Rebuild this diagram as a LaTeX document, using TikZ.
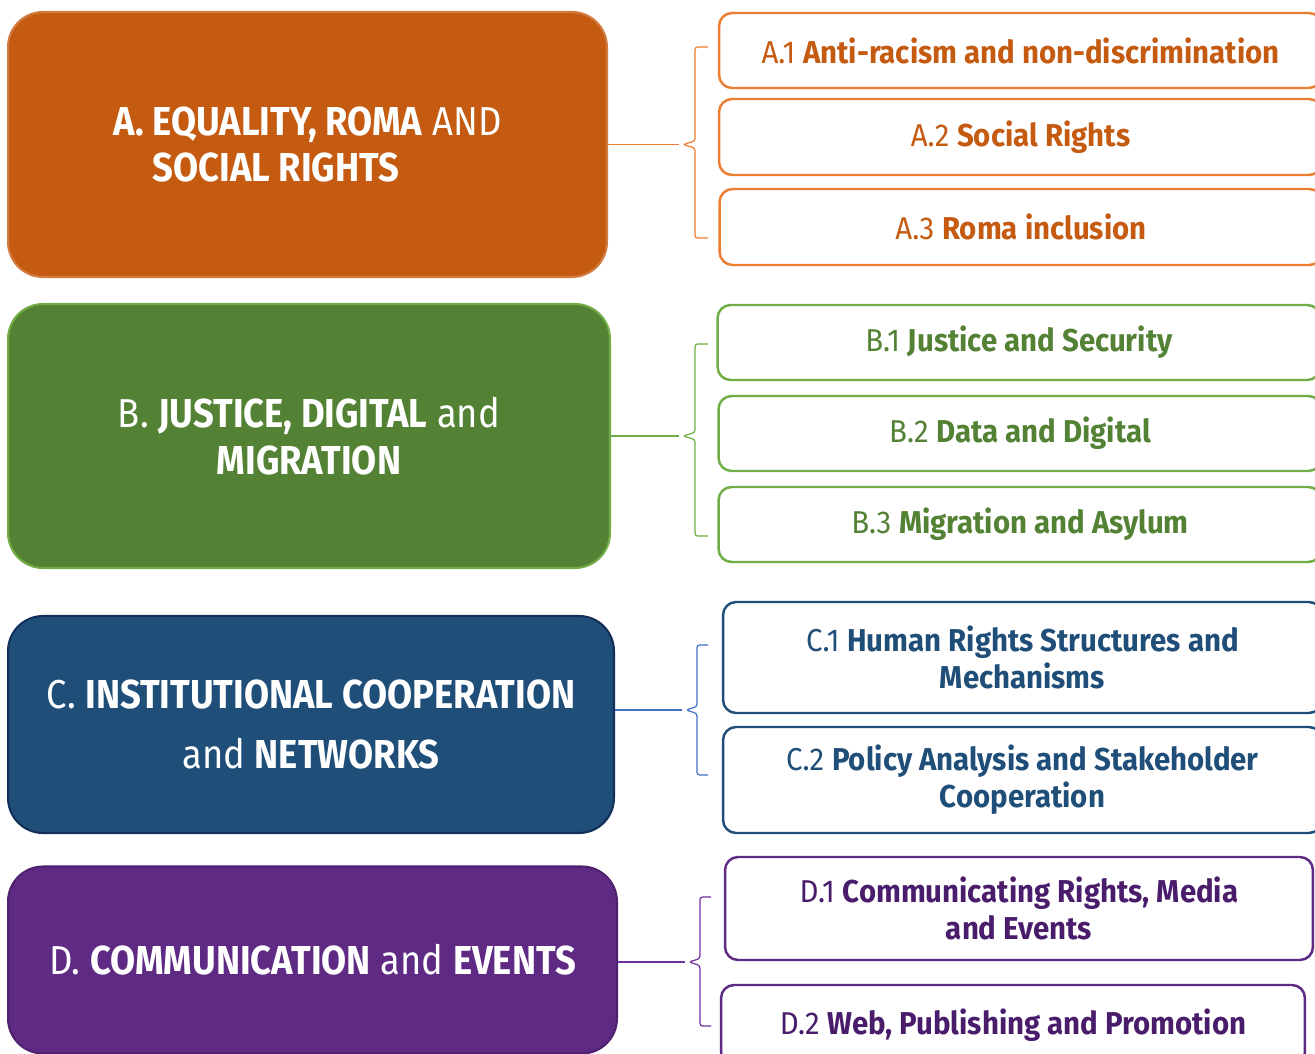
\documentclass[tikz,border=0pt]{standalone}
\usepackage{fontspec}
\setmainfont{Fira Sans}[FakeStretch=0.93]
\newfontfamily\titlefont{Fira Sans}[FakeStretch=0.9]
\definecolor{orangedark}{HTML}{C55A11}
\definecolor{orangeline}{HTML}{ED7D31}
\definecolor{greendark}{HTML}{548235}
\definecolor{greenline}{HTML}{70AD47}
\definecolor{bluedark}{HTML}{1F4E79}
\definecolor{blueedge}{HTML}{12305A}
\definecolor{blueline}{HTML}{4472C4}
\definecolor{purplefill}{HTML}{5E2A84}
\definecolor{purpleedge}{HTML}{4E2270}
\definecolor{purpletext}{HTML}{4A1D6C}
\definecolor{purpleline}{HTML}{7030A0}
\tikzset{
  topic/.style={draw, line width=1.2pt, rounded corners=0.7cm, text=white, align=center,
    inner sep=0pt, font=\titlefont\fontsize{23}{26.7}\selectfont},
  subtopic/.style={draw, line width=1.4pt, rounded corners=0.26cm, fill=white, align=center,
    inner sep=0pt, minimum width=12.06cm, font=\fontsize{18}{21}\selectfont},
  bracket/.style={line width=0.7pt, rounded corners=1.5pt},
  link/.style={line width=0.7pt, shorten >=0.08cm}
}
\begin{document}
\begin{tikzpicture}[x=0.02cm, y=-0.02cm]
    \useasboundingbox (0,0) rectangle (1315,1054);
    \clip (0,0) rectangle (1315,1054);
    % main topics
    \node[topic, align=left, fill=orangedark, draw=orangedark!80!white, minimum width=11.98cm, minimum height=5.3cm] (topA) at (307.5,144.5)
        {\textbf{A. EQUALITY, ROMA} AND\\\hphantom{\textbf{A. }}\textbf{SOCIAL RIGHTS}};
    \node[topic, fill=greendark, draw=greenline, minimum width=12.04cm, minimum height=5.28cm] (topB) at (309,436)
        {B. \textbf{JUSTICE, DIGITAL} and\\\textbf{MIGRATION}};
    \node[topic, fill=bluedark, draw=blueedge, minimum width=12.12cm, minimum height=4.34cm,
        font=\titlefont\fontsize{23}{34}\selectfont] (topC) at (311,724.5)
        {C. \textbf{INSTITUTIONAL COOPERATION}\\and \textbf{NETWORKS}};
    \node[topic, fill=purplefill, draw=purpleedge, minimum width=12.18cm, minimum height=3.74cm] (topD) at (312.5,960)
        {D. \textbf{COMMUNICATION} and \textbf{EVENTS}};
    % sub topics
    \node[subtopic, draw=orangeline, text=orangedark, minimum height=1.5cm] (subA1) at (1020.5,50.5)
        {A.1 \textbf{Anti-racism and non-discrimination}};
    \node[subtopic, draw=orangeline, text=orangedark, minimum height=1.52cm] (subA2) at (1020.5,137)
        {A.2 \textbf{Social Rights}};
    \node[subtopic, draw=orangeline, text=orangedark, minimum height=1.52cm] (subA3) at (1021,227)
        {A.3 \textbf{Roma inclusion}};
    \node[subtopic, draw=greenline, text=greendark, minimum height=1.5cm] (subB1) at (1019,342.5)
        {B.1 \textbf{Justice and Security}};
    \node[subtopic, draw=greenline, text=greendark, minimum height=1.5cm] (subB2) at (1020,433.5)
        {B.2 \textbf{Data and Digital}};
    \node[subtopic, draw=greenline, text=greendark, minimum height=1.5cm] (subB3) at (1020,524.5)
        {B.3 \textbf{Migration and Asylum}};
    \node[subtopic, draw=bluedark, text=bluedark, minimum width=11.98cm, minimum height=2.22cm] (subC1) at (1022.5,657.5)
        {C.1 \textbf{Human Rights Structures and}\\\textbf{Mechanisms}};
    \node[subtopic, draw=bluedark, text=bluedark, minimum width=11.98cm, minimum height=2.12cm] (subC2) at (1022.5,780)
        {C.2 \textbf{Policy Analysis and Stakeholder}\\\textbf{Cooperation}};
    \node[subtopic, draw=purplefill, text=purpletext, minimum width=11.76cm, minimum height=2.06cm] (subD1) at (1019,908.5)
        {D.1 \textbf{Communicating Rights, Media}\\\textbf{and Events}};
    \node[subtopic, draw=purplefill, text=purpletext, minimum width=11.68cm, minimum height=1.6cm] (subD2) at (1013,1025)
        {D.2 \textbf{Web, Publishing and Promotion}};
    % brackets
    \coordinate (tipA) at (683,144.5);
    \coordinate (tipB) at (683,436);
    \coordinate (tipC) at (686,710);
    \coordinate (tipD) at (689,962);
    \draw[bracket, orangeline] (708,47) -- (695,47) -- (695,141) -- (tipA) -- (695,148) -- (695,238) -- (708,238);
    \draw[bracket, greenline] (708,344) -- (695,344) -- (695,432.5) -- (tipB) -- (695,439.5) -- (695,536) -- (708,536);
    \draw[bracket, blueline] (708,645) -- (697,645) -- (697,706.5) -- (tipC) -- (697,713.5) -- (697,775) -- (708,775);
    \draw[bracket, purpleline] (711,897) -- (700,897) -- (700,958.5) -- (tipD) -- (700,965.5) -- (700,1026) -- (711,1026);
    % links
    \draw[link, orangeline] (topA.east) -- (tipA);
    \draw[link, greenline] (topB.east) -- (tipB);
    \draw[link, blueline] (topC.east |- tipC) -- (tipC);
    \draw[link, purpleline] (topD.east |- tipD) -- (tipD);
\end{tikzpicture}
\end{document}
